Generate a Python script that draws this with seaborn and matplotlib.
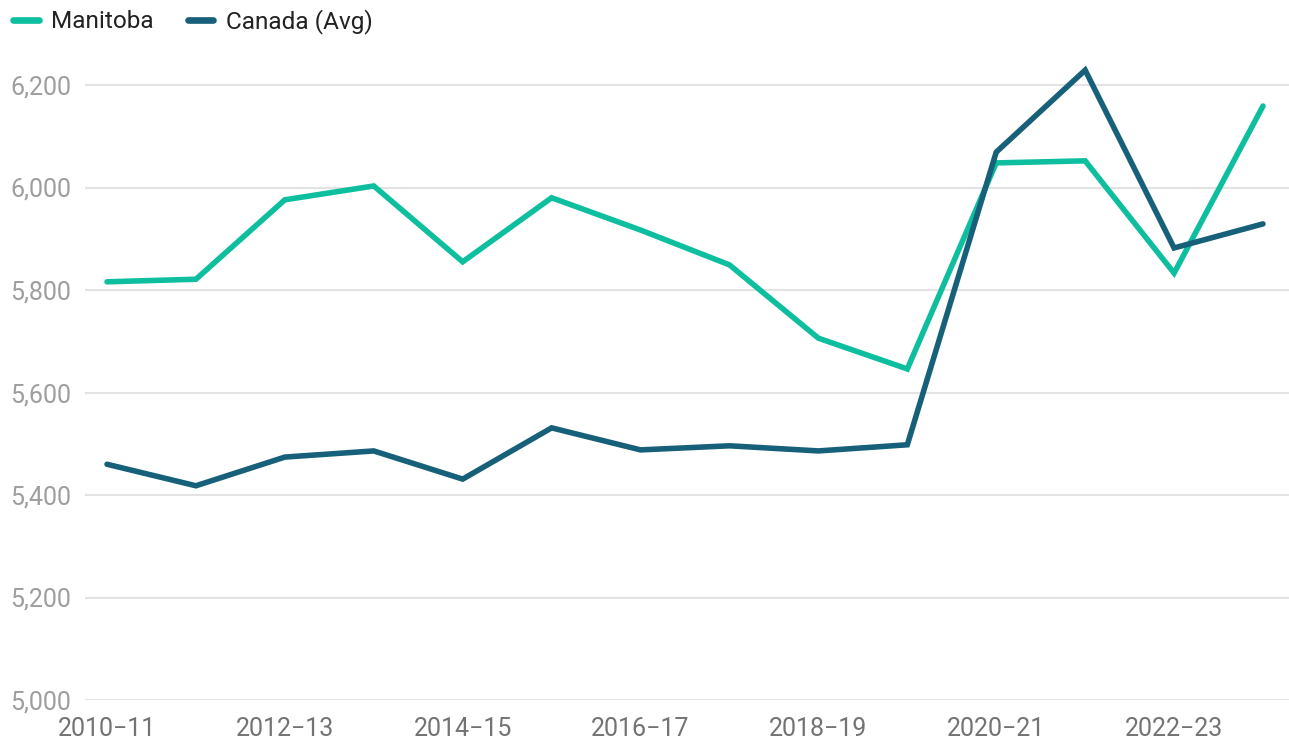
import matplotlib
matplotlib.use("Agg")
import matplotlib.pyplot as plt
import seaborn as sns
import pandas as pd
import numpy as np

years = ["2010−11", "2011−12", "2012−13", "2013−14", "2014−15", "2015−16", "2016−17",
         "2017−18", "2018−19", "2019−20", "2020−21", "2021−22", "2022−23", "2023−24"]
manitoba = [5816, 5821, 5976, 6003, 5855, 5980, 5917, 5849, 5706, 5646, 6048, 6052, 5833, 6159]
canada = [5460, 5418, 5474, 5486, 5431, 5531, 5488, 5496, 5486, 5498, 6069, 6229, 5882, 5929]
series_names = ["Manitoba", "Canada (Avg)"]
colors = ["#0dbf9f", "#17607a"]
yticks = [5000, 5200, 5400, 5600, 5800, 6000, 6200]

sns.set_theme(style="white")
plt.rcParams['font.family'] = ['Roboto', 'DejaVu Sans']

df = pd.DataFrame({
    "idx": list(range(len(years))) * 2,
    "value": manitoba + canada,
    "series": [series_names[0]] * len(years) + [series_names[1]] * len(years),
})

W, H = 1289, 742
fig = plt.figure(figsize=(W / 100, H / 100), dpi=100)
ax = fig.add_axes([85 / W, (H - 700) / H, (W - 85) / W, (700 - 55) / H])

sns.lineplot(data=df, x="idx", y="value", hue="series", palette=colors,
             linewidth=4.0, ax=ax, legend=False)
for l in ax.lines:
    l.set_solid_capstyle("round")
    l.set_solid_joinstyle("miter")

px = 88.92
ax.set_xlim(-22 / px, 13 + 26 / px)
ax.set_ylim(5000, 5000 + (700 - 55) / 102.5 * 200)
ax.set_yticks(yticks)
ax.set_yticklabels([f"{v:,}" for v in yticks])
ax.set_xticks(range(0, len(years), 2))
ax.set_xticklabels(years[::2])
ax.tick_params(axis="y", labelsize=18, colors="#9e9e9e", length=0, pad=10)
ax.tick_params(axis="x", labelsize=18, colors="#737373", length=0, pad=12)
ax.grid(axis="y", color="#e3e3e3", linewidth=1.5)
ax.grid(axis="x", visible=False)
for s in ax.spines.values():
    s.set_visible(False)
ax.set_xlabel("")
ax.set_ylabel("")

from matplotlib.lines import Line2D
handles = [Line2D([0], [0], color=c, linewidth=4.8, solid_capstyle="round") for c in colors]
fig.legend(handles, series_names, loc="upper left", bbox_to_anchor=(8 / W, 1 - 4 / H),
           ncol=2, frameon=False, fontsize=17.6, handlelength=1.05, handletextpad=0.5,
           columnspacing=1.4, borderaxespad=0.0, borderpad=0.2,
           labelcolor="#222222")

fig.savefig("out.png", dpi=100, facecolor="white")
